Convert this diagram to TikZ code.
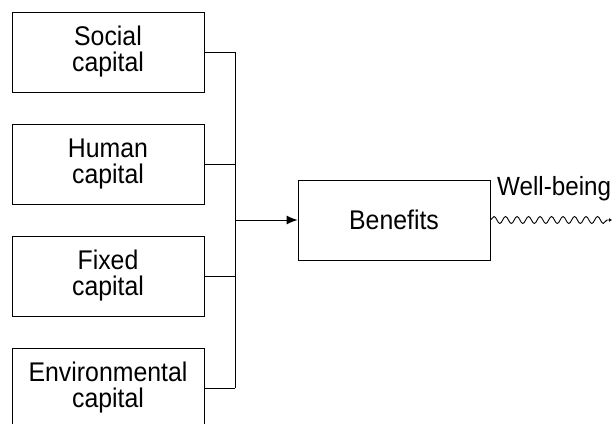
\documentclass[tikz,border=0pt]{standalone}
\usepackage{fontspec}
\setmainfont[FakeStretch=0.92]{Liberation Sans}
\usepackage{tikz}
\usetikzlibrary{positioning,arrows.meta,decorations.pathmorphing}

\tikzset{
  capbox/.style={draw,line width=0.9pt,minimum width=192pt,minimum height=80pt,
    align=center,font=\fontsize{27}{26}\selectfont,inner sep=0pt},
  link/.style={line width=0.9pt}
}

\begin{document}
\begin{tikzpicture}[x=1pt,y=-1pt]
    \useasboundingbox (0,0) rectangle (612,423);
    \clip (0,0) rectangle (612,423);
    % capital boxes
    \node[capbox] (social) at (108,52) {Social\\capital};
    \node[capbox] (human) at (108,164) {Human\\capital};
    \node[capbox] (fixed) at (108,276) {Fixed\\capital};
    \node[capbox] (env) at (108,388) {Environmental\\capital};
    \node[capbox] (benefits) at (394,220) {Benefits};
    % trunk
    \coordinate (top) at (235,52);
    \coordinate (bot) at (235,388);
    \coordinate (mid) at (235,220);
    \draw[link] (top) -- (bot);
    \foreach \n in {social,human,fixed,env}{
      \draw[link] (\n.east) -- (\n.east -| top);
    }
    \draw[link,-{Latex[length=11pt,width=9pt]}] (mid) -- (benefits.west);
    % well-being
    \coordinate (wb) at (612,220);
    \draw[link,-{Latex[length=3pt,width=4pt]},decorate,
      decoration={snake,segment length=11.5pt,amplitude=3.5pt,post length=2pt}]
      (benefits.east) -- (wb);
    \node[anchor=base west,font=\fontsize{26.3}{26}\selectfont,inner sep=0pt]
      (wbtext) at (497,195) {Well-being};
\end{tikzpicture}
\end{document}
